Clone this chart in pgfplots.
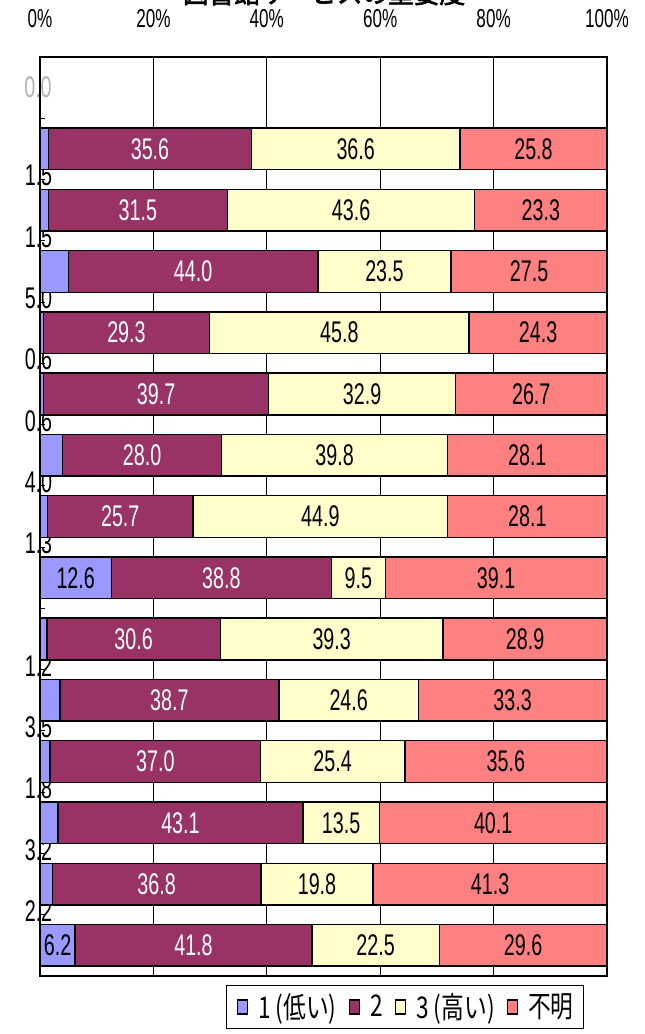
\documentclass[border=0pt]{standalone}
\usepackage{pgfplots}
\usepackage{pgfplotstable}
\pgfplotsset{compat=1.18}
\usepackage{fontspec}
\setmainfont{Liberation Sans}
\newfontfamily\narrow[FakeStretch=0.66]{Liberation Sans}
\newfontfamily\jp[FakeStretch=0.76]{Noto Sans CJK JP}
\newfontfamily\jptitle[FakeStretch=0.92,FakeBold=2]{Noto Sans CJK JP}

\definecolor{c1}{HTML}{9999FF}
\definecolor{c2}{HTML}{993366}
\definecolor{c3}{HTML}{FFFFCC}
\definecolor{c4}{HTML}{FF8080}

% shares per row: 1 (low), 2, 3 (high), unknown
\pgfplotstableread{
row a b c d
1 1.5 35.6 36.6 25.8
2 1.5 31.5 43.6 23.3
3 5.0 44.0 23.5 27.5
4 0.6 29.3 45.8 24.3
5 0.6 39.7 32.9 26.7
6 4.0 28.0 39.8 28.1
7 1.3 25.7 44.9 28.1
8 12.6 38.8 9.5 39.1
9 1.2 30.6 39.3 28.9
10 3.5 38.7 24.6 33.3
11 1.8 37.0 25.4 35.6
12 3.2 43.1 13.5 40.1
13 2.2 36.8 19.8 41.3
14 6.2 41.8 22.5 29.6
}\data

\newcommand\tot{(\thisrow{a}+\thisrow{b}+\thisrow{c}+\thisrow{d})}
\newcommand\lab{\narrow\fontsize{30}{30}\selectfont}

\pgfplotsset{
  geom/.style={
    at={(40bp,58bp)}, anchor=south west,
    scale only axis, width=567bp, height=919bp,
    xmin=0, xmax=100, ymin=-0.5, ymax=14.5, y dir=reverse,
  },
  labels/.style={geom, hide axis, clip=false,
    /pgf/number format/assume math mode=true,
    nodes near coords={\pgfmathprintnumber[fixed,zerofill,precision=1]{\pgfplotspointmeta}},
    nodes near coords align=center,
    every node near coord/.append style={anchor=center, inner sep=0pt, font=\lab},
  },
}

\begin{document}
\begin{tikzpicture}
\useasboundingbox (0bp,0bp) rectangle (645bp,1034bp);

\node[font=\jptitle\fontsize{28}{28}\selectfont, anchor=base] at (324bp,1031bp) {図書館サービスの重要度};

% small first-segment labels, partly hidden by the bars
\begin{axis}[labels]
\addplot[draw=none, mark=none, point meta=explicit,
  restrict expr to domain={\thisrow{a}}{0:6},
  every node near coord/.append style={xshift=-1.5bp}]
  table[x expr=0, y expr=\thisrow{row}+0.44, meta=a] \data;
\end{axis}

\begin{axis}[geom,
  xbar stacked, bar width=0.68,
  axis line style={black, line width=1.2bp},
  xtick={0,20,...,100},
  xticklabels={0\%,20\%,40\%,60\%,80\%,100\%},
  xticklabel pos=right,
  x tick style={draw=none},
  xticklabel style={font=\narrow\fontsize{26}{26}\selectfont, anchor=base, inner sep=0pt, yshift=30bp},
  xmajorgrids, major grid style={black, line width=0.8bp},
  ytick={-0.5,0.5,...,14.5}, yticklabels={},
  ytick pos=left, tick align=inside, major tick length=5bp,
  y tick style={black, line width=1bp},
  legend columns=-1,
  legend style={at={(0.644,-0.0098)}, anchor=north, draw=black, line width=1bp,
    font=\jp\fontsize{30}{30}\selectfont, inner xsep=10bp, inner ysep=8bp,
    nodes={inner sep=0pt},
    /tikz/every odd column/.append style={column sep=10bp},
    /tikz/every even column/.append style={column sep=12bp}},
  legend image code/.code={\draw[#1, line width=1.5bp] (0bp,-7bp) rectangle (10bp,7bp);},
]
\addplot[fill=c1, draw=black, line width=1.5bp] table[x expr={\thisrow{a}*100/\tot}, y=row] \data;
\addlegendentry{1 (低い)}
\addplot[fill=c2, draw=black, line width=1.5bp] table[x expr={\thisrow{b}*100/\tot}, y=row] \data;
\addlegendentry{2}
\addplot[fill=c3, draw=black, line width=1.5bp] table[x expr={\thisrow{c}*100/\tot}, y=row] \data;
\addlegendentry{3 (高い)}
\addplot[fill=c4, draw=black, line width=1.5bp] table[x expr={\thisrow{d}*100/\tot}, y=row] \data;
\addlegendentry{不明}
\draw[black, line width=2.2bp] (rel axis cs:0,0) -- (rel axis cs:1,0);
\end{axis}

% labels inside the segments
\begin{axis}[labels]
\addplot[draw=none, mark=none, point meta=explicit,
  restrict expr to domain={\thisrow{a}}{6:100}]
  table[x expr={\thisrow{a}/2*100/\tot}, y=row, meta=a] \data;
\addplot[draw=none, mark=none, point meta=explicit,
  every node near coord/.append style={text=white}]
  table[x expr={(\thisrow{a}+\thisrow{b}/2)*100/\tot}, y=row, meta=b] \data;
\addplot[draw=none, mark=none, point meta=explicit]
  table[x expr={(\thisrow{a}+\thisrow{b}+\thisrow{c}/2)*100/\tot}, y=row, meta=c] \data;
\addplot[draw=none, mark=none, point meta=explicit]
  table[x expr={(\thisrow{a}+\thisrow{b}+\thisrow{c}+\thisrow{d}/2)*100/\tot}, y=row, meta=d] \data;
\addplot[draw=none, mark=none, point meta=explicit,
  every node near coord/.append style={text=black!30, xshift=-2bp}]
  coordinates {(0,0) [0]};
\end{axis}
\end{tikzpicture}
\end{document}
